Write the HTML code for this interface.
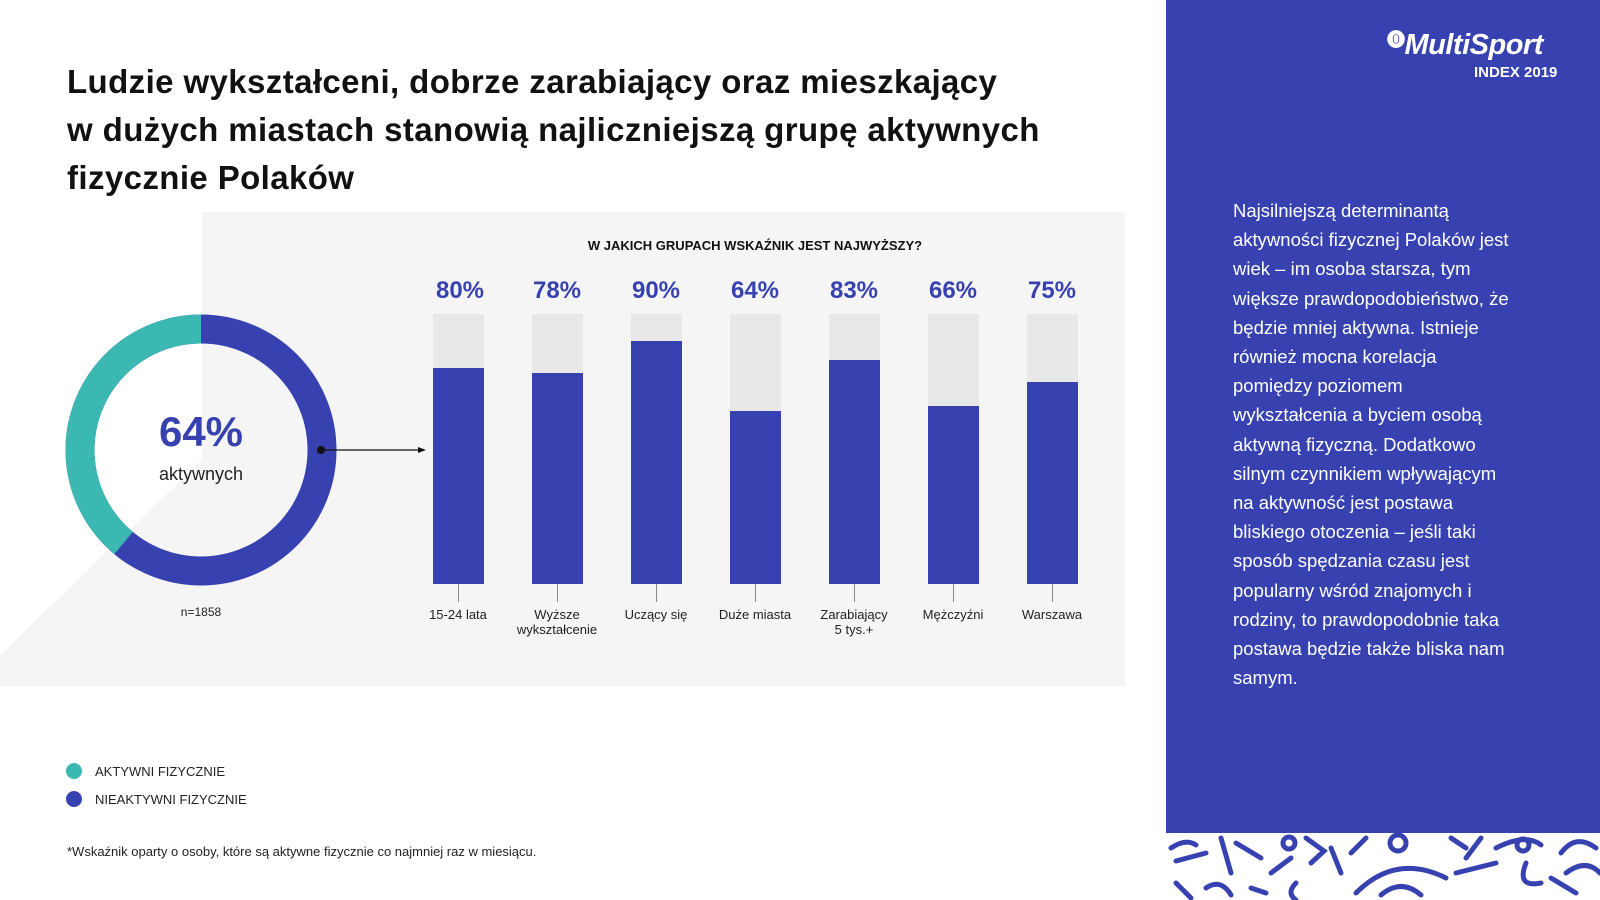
<!DOCTYPE html>
<html><head><meta charset="utf-8"><style>
body{margin:0;width:1600px;height:900px;background:#fff;position:relative;overflow:hidden;font-family:"Liberation Sans",sans-serif;color:#111}
.a{position:absolute}
</style></head><body>
<div class="a" style="left:67px;top:58px;font-size:33px;font-weight:bold;line-height:48px;width:1080px;letter-spacing:0.4px">Ludzie wykształceni, dobrze zarabiający oraz mieszkający<br>w dużych miastach stanowią najliczniejszą grupę aktywnych<br>fizycznie Polaków</div>
<svg class="a" style="left:0;top:0" width="1166" height="900">
<rect x="202" y="212" width="923" height="474" fill="#f5f5f5"/>
<polygon points="0,655 202,460 202,686 0,686" fill="#f5f5f5"/>
<circle cx="201" cy="450" r="121" fill="none" stroke="#3742b0" stroke-width="29"/>
<path d="M201,329 A121,121 0 0 0 123.6,543" fill="none" stroke="#3bb8b1" stroke-width="29"/>
<text x="201" y="446" text-anchor="middle" font-size="42" font-weight="bold" fill="#3742b0">64%</text>
<text x="201" y="480" text-anchor="middle" font-size="18" fill="#222">aktywnych</text>
<text x="201" y="616" text-anchor="middle" font-size="12" fill="#222">n=1858</text>
<circle cx="321" cy="450" r="4" fill="#111"/>
<line x1="321" y1="450" x2="420" y2="450" stroke="#111" stroke-width="1.2"/>
<polygon points="426,450 418,447 418,453" fill="#111"/>
<text x="755" y="250" text-anchor="middle" font-size="13" font-weight="bold" fill="#111">W JAKICH GRUPACH WSKAŹNIK JEST NAJWYŻSZY?</text>
<g font-size="24" font-weight="bold" fill="#3742b0" text-anchor="middle">
<text x="460" y="298">80%</text><text x="557" y="298">78%</text><text x="656" y="298">90%</text><text x="755" y="298">64%</text><text x="854" y="298">83%</text><text x="953" y="298">66%</text><text x="1052" y="298">75%</text></g>
<g fill="#e8e8e8">
<rect x="433" y="314" width="51" height="270"/><rect x="532" y="314" width="51" height="270"/><rect x="631" y="314" width="51" height="270"/><rect x="730" y="314" width="51" height="270"/><rect x="829" y="314" width="51" height="270"/><rect x="928" y="314" width="51" height="270"/><rect x="1027" y="314" width="51" height="270"/></g>
<g fill="#3742b0">
<rect x="433" y="368" width="51" height="216"/><rect x="532" y="373" width="51" height="211"/><rect x="631" y="341" width="51" height="243"/><rect x="730" y="411" width="51" height="173"/><rect x="829" y="360" width="51" height="224"/><rect x="928" y="406" width="51" height="178"/><rect x="1027" y="382" width="51" height="202"/></g>
<g stroke="#888" stroke-width="1">
<line x1="458.5" y1="584" x2="458.5" y2="602"/><line x1="557.5" y1="584" x2="557.5" y2="602"/><line x1="656.5" y1="584" x2="656.5" y2="602"/><line x1="755.5" y1="584" x2="755.5" y2="602"/><line x1="854.5" y1="584" x2="854.5" y2="602"/><line x1="953.5" y1="584" x2="953.5" y2="602"/><line x1="1052.5" y1="584" x2="1052.5" y2="602"/></g>
<g font-size="13" fill="#222" text-anchor="middle">
<text x="458" y="619">15-24 lata</text>
<text x="557" y="619">Wyższe</text><text x="557" y="634">wykształcenie</text>
<text x="656" y="619">Uczący się</text>
<text x="755" y="619">Duże miasta</text>
<text x="854" y="619">Zarabiający</text><text x="854" y="634">5 tys.+</text>
<text x="953" y="619">Mężczyźni</text>
<text x="1052" y="619">Warszawa</text></g>
<circle cx="74" cy="771" r="8" fill="#3bb8b1"/>
<circle cx="74" cy="799" r="8" fill="#3742b0"/>
<text x="95" y="776" font-size="13" fill="#222">AKTYWNI FIZYCZNIE</text>
<text x="95" y="804" font-size="13" fill="#222">NIEAKTYWNI FIZYCZNIE</text>
<text x="67" y="856" font-size="13" fill="#222">*Wskaźnik oparty o osoby, które są aktywne fizycznie co najmniej raz w miesiącu.</text>
</svg>
<div class="a" style="left:1166px;top:0;width:434px;height:833px;background:#3742b0"></div>
<div class="a" style="left:1387px;top:26px;color:#fff;font-size:29px;font-weight:bold;font-style:italic;letter-spacing:-0.5px"><span style="font-size:18px;vertical-align:8px;font-style:normal">⓿</span>MultiSport</div>
<div class="a" style="left:1474px;top:64px;color:#fff;font-size:15px;font-weight:bold">INDEX 2019</div>
<div class="a" style="left:1233px;top:196px;width:285px;color:#fff;font-size:18.5px;line-height:29.2px">Najsilniejszą determinantą aktywności fizycznej Polaków jest wiek – im osoba starsza, tym większe prawdopodobieństwo, że będzie mniej aktywna. Istnieje również mocna korelacja pomiędzy poziomem wykształcenia a byciem osobą aktywną fizyczną. Dodatkowo silnym czynnikiem wpływającym na aktywność jest postawa bliskiego otoczenia – jeśli taki sposób spędzania czasu jest popularny wśród znajomych i rodziny, to prawdopodobnie taka postawa będzie także bliska nam samym.</div>
<svg class="a" style="left:1166px;top:833px" width="434" height="67" fill="none" stroke="#3742b0" stroke-width="5" stroke-linecap="round">
<path d="M5,15 Q20,5 30,12 M10,28 L40,20 M55,5 L65,40 M70,10 L95,25 M105,40 L125,25"/>
<circle cx="123" cy="10" r="6"/>
<path d="M140,5 L158,18 L145,30 M165,15 L175,40 M185,20 L200,5"/>
<circle cx="232" cy="10" r="8"/>
<path d="M190,60 Q230,20 280,45 M215,62 Q235,45 255,62 M285,5 L300,15 M300,25 L315,5 M290,40 L330,30 M330,15 Q360,0 375,12 M360,30 Q350,55 375,50 M395,20 Q410,0 430,15 M385,45 L410,60 M400,40 Q420,25 434,40"/>
<circle cx="357" cy="12" r="6"/>
<path d="M10,50 L25,65 M40,55 Q55,45 65,62 M85,55 L100,60 M130,50 Q120,60 130,67"/>
</svg>
</body></html>
